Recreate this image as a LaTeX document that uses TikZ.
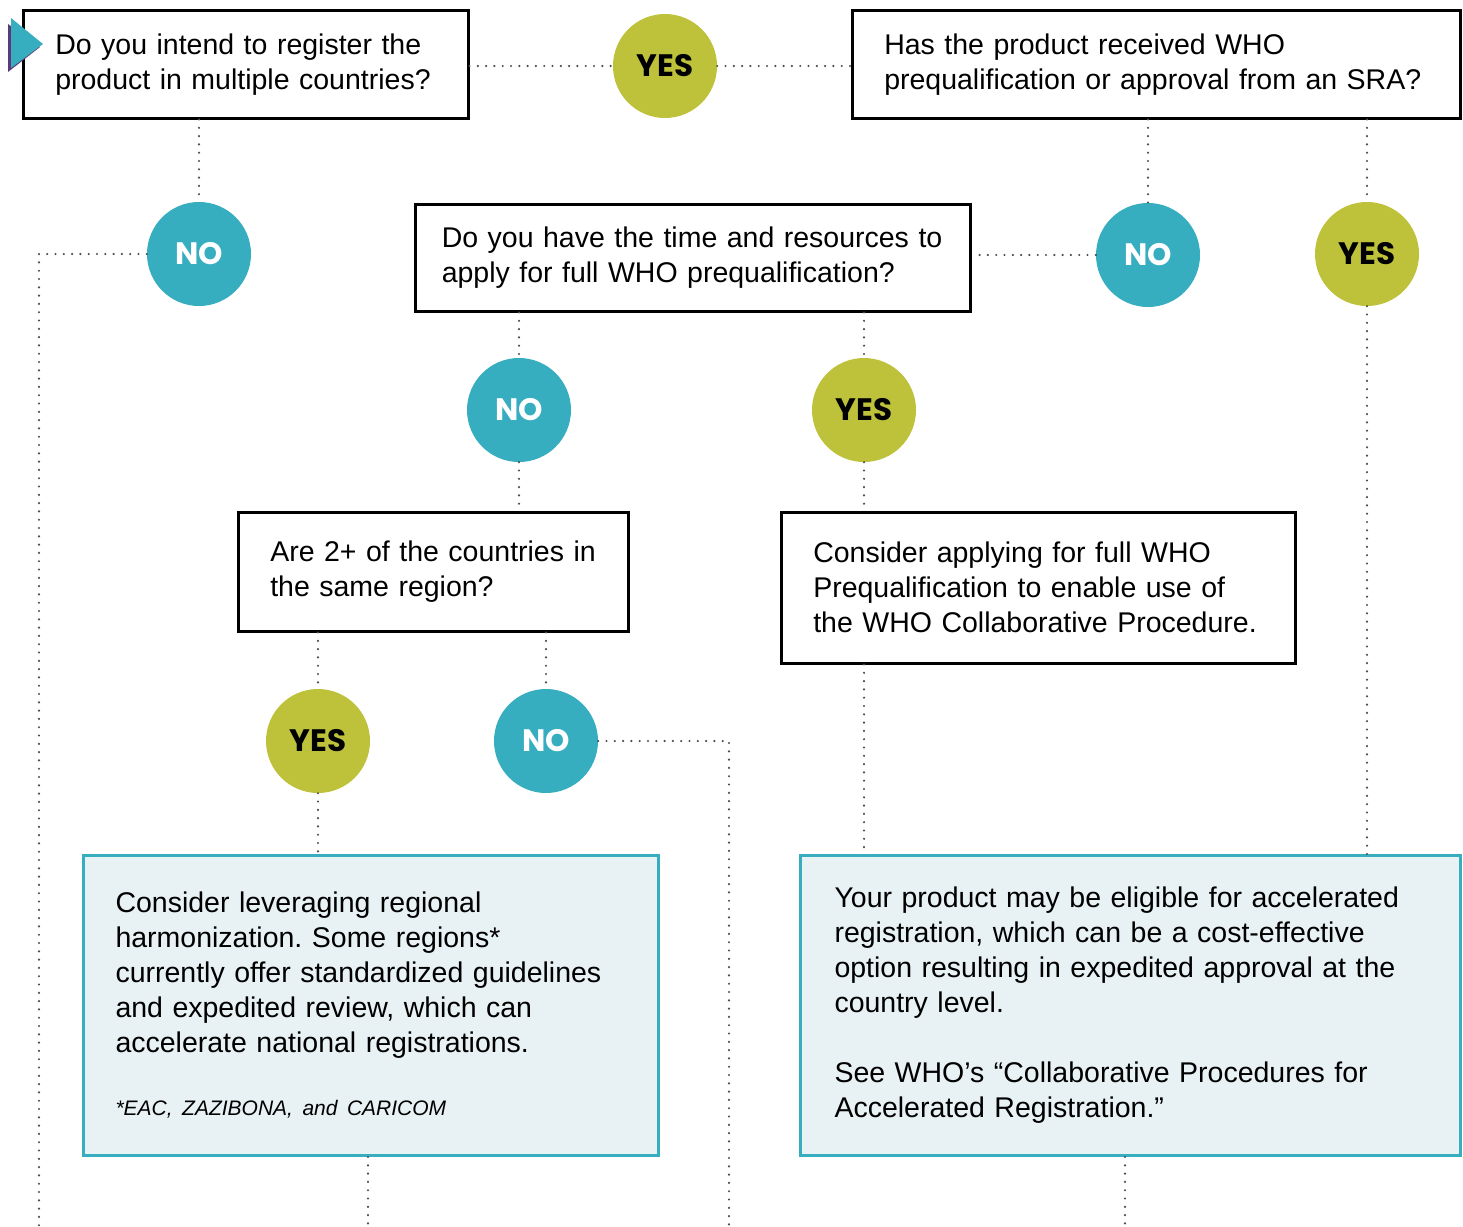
\documentclass[tikz,border=0pt]{standalone}
\usepackage{fontspec}
\setmainfont{Liberation Sans}
\newfontfamily\badgefont{Poppins}
\usepackage{xcolor}
\definecolor{tealc}{HTML}{37AEC0}
\definecolor{olivec}{HTML}{BEC23A}
\definecolor{paleblue}{HTML}{E8F1F3}
\definecolor{purplec}{HTML}{5B3A7A}
\frenchspacing

\begin{document}
\begin{tikzpicture}[x=1pt,y=-1pt]
\tikzstyle{question}=[draw=black,line width=2.5pt,anchor=north west,inner xsep=32pt,inner ysep=0pt,align=left,font=\fontsize{28.5}{35}\selectfont]
\tikzstyle{result}=[question,draw=tealc,line width=3pt,fill=paleblue]
\tikzstyle{yesdot}=[circle,fill=olivec,minimum size=104pt,inner sep=0pt,font=\badgefont\bfseries\fontsize{31}{31}\selectfont]
\tikzstyle{nodot}=[yesdot,fill=tealc,text=white]
\tikzstyle{link}=[line width=2.4pt,line cap=round,dash pattern=on 0pt off 8.3pt,draw=black!70]
\useasboundingbox (0,0) rectangle (1463,1226);

% questions
\node[question,text width=381pt,minimum height=108pt](q1) at (22,9)
  {Do you intend to register the\\product in multiple countries?};
\node[question,text width=544pt,minimum height=108pt](q2) at (851,9)
  {Has the product received WHO\\prequalification or approval from an SRA?};
\node[question,text width=502pt,inner xsep=26.5pt,minimum height=107pt](q3) at (414,203)
  {Do you have the time and resources to\\apply for full WHO prequalification?};
\node[question,text width=326pt,minimum height=119pt](q4) at (237,511)
  {Are 2+ of the countries in\\the same region?};
\node[question,text width=450pt,minimum height=151pt](q5) at (780,511)
  {Consider applying for full WHO\\Prequalification to enable use of\\the WHO Collaborative Procedure.};

% outcomes
\node[result,text width=511pt,minimum height=300pt](r1) at (82,854)
  {Consider leveraging regional\\harmonization. Some regions*\\currently offer standardized guidelines\\and expedited review, which can\\accelerate national registrations.\\[28pt]
   {\itshape\fontsize{21}{26}\selectfont *EAC, ZAZIBONA, and CARICOM}};
\node[result,text width=592pt,inner xsep=34pt,minimum height=300pt](r2) at (799,854)
  {Your product may be eligible for accelerated\\registration, which can be a cost-effective\\option resulting in expedited approval at the\\country level.\\[35pt]
   See WHO's \textquotedblleft Collaborative Procedures for\\Accelerated Registration.\textquotedblright};

% start marker
\fill[purplec] (8,24) -- (40,47) -- (8,72) -- cycle;
\fill[tealc] (11,18) -- (43,44) -- (11,68) -- cycle;

% answers
\node[yesdot](yes1) at (665,66){YES};
\node[nodot](no1) at (199,254){NO};
\node[nodot](no2) at (1148,255){NO};
\node[yesdot](yes2) at (1367,254){YES};
\node[nodot](no3) at (519,410){NO};
\node[yesdot](yes3) at (864,410){YES};
\node[yesdot](yes4) at (318,741){YES};
\node[nodot](no4) at (546,741){NO};

\coordinate (endL) at (39,1226);
\coordinate (endM) at (729,1226);
\coordinate (endA) at (368,1226);
\coordinate (endB) at (1125,1226);

\draw[link] (q1.east |- yes1) -- (yes1);
\draw[link] (yes1) -- (q2.west |- yes1);
\draw[link] (q1.south -| no1) -- (no1);
\draw[link] (no1) -| (endL);
\draw[link] (q2.south -| no2) -- (no2);
\draw[link] (no2) -- (q3.east |- no2);
\draw[link] (q2.south -| yes2) -- (yes2);
\draw[link] (yes2) -- (r2.north -| yes2);
\draw[link] (q3.south -| no3) -- (no3);
\draw[link] (no3) -- (q4.north -| no3);
\draw[link] (q3.south -| yes3) -- (yes3);
\draw[link] (yes3) -- (q5.north -| yes3);
\draw[link] (q4.south -| yes4) -- (yes4);
\draw[link] (yes4) -- (r1.north -| yes4);
\draw[link] (q4.south -| no4) -- (no4);
\draw[link] (no4) -| (endM);
\draw[link] (q5.south -| yes3) -- (r2.north -| yes3);
\draw[link] (r1.south -| endA) -- (endA);
\draw[link] (r2.south -| endB) -- (endB);
\end{tikzpicture}
\end{document}
